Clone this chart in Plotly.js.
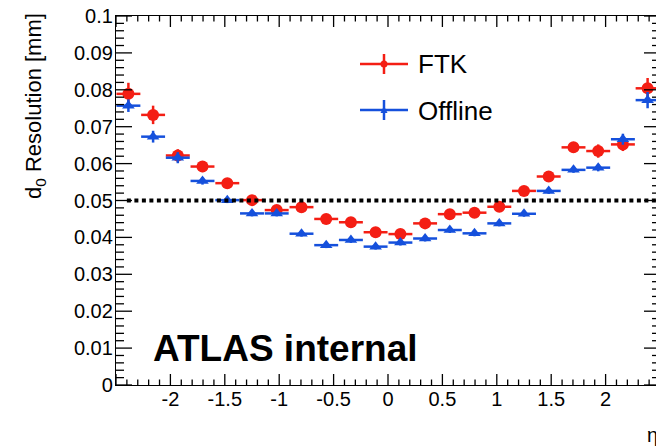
<!DOCTYPE html>
<html>
<head>
<meta charset="utf-8">
<script src="https://cdn.plot.ly/plotly-3.0.1.min.js"></script>
<style>
html,body{margin:0;padding:0;overflow:hidden;background:#fff;width:656px;height:447px;}
#chart{width:680px;height:447px;}
</style>
</head>
<body>
<div id="chart"></div>
<script>
// eta bin centres (22 bins from -2.5 to 2.5)
const etaCenters = [-2.386,-2.159,-1.932,-1.705,-1.477,-1.250,-1.023,-0.795,-0.568,-0.341,-0.114,
                     0.114, 0.341, 0.568, 0.795, 1.023, 1.250, 1.477, 1.705, 1.932, 2.159, 2.386];
const binHalfWidth = 0.11;

// FTK d0 resolution [mm]
const ftkRes = [0.0789,0.0732,0.0622,0.0592,0.0547,0.0501,0.0474,0.0482,0.0450,0.0441,0.0414,
                0.0409,0.0438,0.0463,0.0467,0.0483,0.0526,0.0565,0.0644,0.0634,0.0652,0.0804];
const ftkErr = [0.0030,0.0025,0.0017,0.0015,0.0010,0.0012,0.0008,0.0008,0.0008,0.0008,0.0008,
                0.0008,0.0008,0.0008,0.0008,0.0008,0.0008,0.0010,0.0012,0.0018,0.0018,0.0028];

// Offline d0 resolution [mm]
const offRes = [0.0757,0.0673,0.0616,0.0553,0.0501,0.0465,0.0465,0.0410,0.0379,0.0393,0.0375,
                0.0386,0.0397,0.0420,0.0411,0.0438,0.0464,0.0526,0.0583,0.0589,0.0666,0.0772];
const offErr = [0.0017,0.0016,0.0015,0.0010,0.0008,0.0008,0.0008,0.0008,0.0008,0.0008,0.0008,
                0.0008,0.0008,0.0008,0.0008,0.0008,0.0008,0.0008,0.0008,0.0010,0.0015,0.0022];

const seriesNames = ['FTK','Offline'];
const xTickVals = [-2,-1.5,-1,-0.5,0,0.5,1,1.5,2];
const xTickText = ['-2','-1.5','-1','-0.5','0','0.5','1','1.5','2'];
const threshold = 0.05;

const RED = '#f41e14';
const BLUE = '#1550dc';
const FONT = 'Liberation Sans, Arial, sans-serif';

// layout geometry (pixels)
const W = 680, H = 447;
const M = {l:116, r:20, t:16, b:62};
const PW = W - M.l - M.r, PH = H - M.t - M.b;
const px = v => (v - M.l) / PW;        // pixel x -> paper x
const py = v => (H - M.b - v) / PH;    // pixel y -> paper y

const traces = [
  {
    x: etaCenters, y: ftkRes, type: 'scatter', mode: 'markers', name: seriesNames[0],
    marker: {symbol: 'circle', size: 12, color: RED, line: {width: 0}},
    error_y: {type: 'data', array: ftkErr, color: RED, thickness: 2.5, width: 0},
    error_x: {type: 'constant', value: binHalfWidth, color: RED, thickness: 2.5, width: 0},
    showlegend: false, hoverinfo: 'x+y'
  },
  {
    x: etaCenters, y: offRes, type: 'scatter', mode: 'markers', name: seriesNames[1],
    marker: {symbol: 'triangle-up', size: 11, color: BLUE, line: {width: 0}},
    error_y: {type: 'data', array: offErr, color: BLUE, thickness: 2.5, width: 0},
    error_x: {type: 'constant', value: binHalfWidth, color: BLUE, thickness: 2.5, width: 0},
    showlegend: false, hoverinfo: 'x+y'
  }
];

// ROOT-style inward ticks on all four frame sides (axis decoration)
const TICK = {color:'#000', width:1.3};
const tickShapes = [];
for (let k = -25; k <= 25; k++) {           // x: minor every 0.1, major every 0.5
  const v = k / 10, len = (k % 5 === 0) ? 11 : 5.5;
  tickShapes.push({type:'line', xref:'x', yref:'paper', x0:v, x1:v, y0:0, y1:len/PH, line:TICK});
  tickShapes.push({type:'line', xref:'x', yref:'paper', x0:v, x1:v, y0:1, y1:1-len/PH, line:TICK});
}
for (let k = 0; k <= 50; k++) {             // y: minor every 0.002, major every 0.01
  const v = k * 0.002, len = (k % 5 === 0) ? 16 : 8;
  tickShapes.push({type:'line', xref:'paper', yref:'y', x0:0, x1:len/PW, y0:v, y1:v, line:TICK});
  tickShapes.push({type:'line', xref:'paper', yref:'y', x0:1, x1:1-len/PW, y0:v, y1:v, line:TICK});
}

// manual ROOT-style legend
function legendEntry(cy, color, symbol) {
  const s = [];
  s.push({type:'line', xref:'paper', yref:'paper', x0:px(360), x1:px(408), y0:py(cy), y1:py(cy),
          line:{color:color, width:2.5}});
  s.push({type:'line', xref:'paper', yref:'paper', x0:px(384), x1:px(384), y0:py(cy-10), y1:py(cy+10),
          line:{color:color, width:2.5}});
  if (symbol === 'circle') {
    s.push({type:'circle', xref:'paper', yref:'paper', x0:px(380.5), x1:px(387.5), y0:py(cy-3.5), y1:py(cy+3.5),
            fillcolor:color, line:{color:color, width:0}});
  } else {
    const p = 'M ' + px(384) + ' ' + py(cy-4) + ' L ' + px(387.5) + ' ' + py(cy+3) + ' L ' + px(380.5) + ' ' + py(cy+3) + ' Z';
    s.push({type:'path', xref:'paper', yref:'paper', path:p, fillcolor:color, line:{color:color, width:0}});
  }
  return s;
}

const shapes = [
  {type:'line', xref:'x', yref:'y', x0:-2.4, x1:2.5, y0:threshold, y1:threshold,
   line:{color:'#000', width:4, dash:'4px,3.5px'}}
].concat(tickShapes, legendEntry(64, RED, 'circle'), legendEntry(110, BLUE, 'triangle'));

const annotations = [
  {xref:'paper', yref:'paper', x:px(416), y:py(64), xanchor:'left', yanchor:'middle',
   text:seriesNames[0], showarrow:false, font:{family:FONT, size:26, color:'#000'}},
  {xref:'paper', yref:'paper', x:px(416), y:py(111), xanchor:'left', yanchor:'middle',
   text:seriesNames[1], showarrow:false, font:{family:FONT, size:26, color:'#000'}},
  {xref:'paper', yref:'paper', x:px(151), y:py(348), xanchor:'left', yanchor:'middle',
   text:'<b>ATLAS internal</b>', showarrow:false, font:{family:FONT, size:37, color:'#000'}},
  {xref:'paper', yref:'paper', x:px(35), y:py(11), xanchor:'center', yanchor:'top', textangle:-90,
   text:'d<sub>0</sub> Resolution [mm]', showarrow:false, font:{family:FONT, size:22, color:'#000'}},
  {xref:'paper', yref:'paper', x:1, y:py(435), xanchor:'right', yanchor:'middle',
   text:'η', showarrow:false, font:{family:FONT, size:20, color:'#000'}}
];

const layout = {
  width: W, height: H,
  margin: M,
  paper_bgcolor: '#fff', plot_bgcolor: '#fff',
  font: {family: FONT, size: 20, color: '#000'},
  showlegend: false,
  xaxis: {
    range: [-2.5, 2.5], tickmode: 'array', tickvals: xTickVals, ticktext: xTickText,
    ticks: '', ticklabelstandoff: -4,
    showline: true, linecolor: '#000', linewidth: 1.3, mirror: true,
    showgrid: false, zeroline: false,
    tickfont: {family: FONT, size: 20, color: '#000'}
  },
  yaxis: {
    range: [0, 0.1], dtick: 0.01, tick0: 0,
    ticks: '', ticklabelstandoff: -2,
    showline: true, linecolor: '#000', linewidth: 1.3, mirror: true,
    showgrid: false, zeroline: false,
    tickfont: {family: FONT, size: 20, color: '#000'}
  },
  shapes: shapes,
  annotations: annotations
};

Plotly.newPlot('chart', traces, layout, {displayModeBar: false});
</script>
</body>
</html>
